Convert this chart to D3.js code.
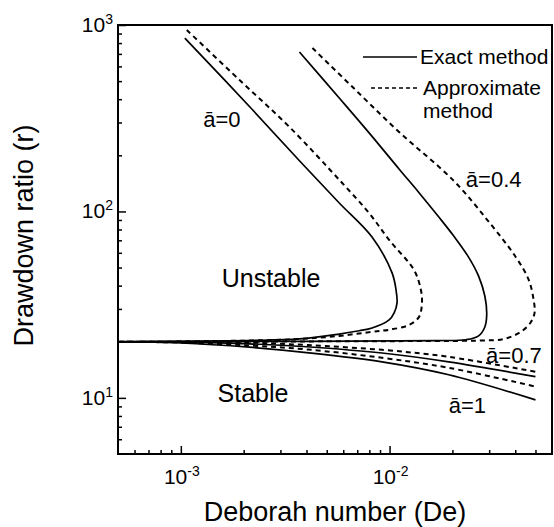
<!DOCTYPE html>
<html>
<head>
<meta charset="utf-8">
<script src="https://cdn.jsdelivr.net/npm/d3@7"></script>
<style>
    body { margin: 0; background: #fff; }
    svg { display: block; font-family: "Liberation Sans", Arial, sans-serif; }
</style>
</head>
<body>
<div id="chart"></div>
<script>
// Neutral stability curves, points are [De, r]
const exactA0 = [[1.045e-3, 851], [2.21e-3, 350], [3.70e-3, 187], [5.74e-3, 111], [8.24e-3, 72.9],
    [0.01028, 46.8], [0.01074, 37.9], [0.01086, 32.3], [0.01052, 28.6], [0.00995, 26.2], [0.00824, 23.7],
    [0.00715, 22.9], [0.00574, 22.0], [0.0037, 20.7], [0.00213, 20.3], [5e-4, 20]];
const approxA0 = [[1.068e-3, 940], [1.91e-3, 507], [3.31e-3, 284], [5.93e-3, 142], [7.98e-3, 98],
    [9.95e-3, 70.3], [0.01309, 48.5], [0.01413, 37.9], [0.01429, 32.3], [0.01384, 27.2], [0.01239, 24.6],
    [0.00995, 23.2], [0.00824, 22.6], [0.00574, 21.5], [0.0037, 20.7], [0.00213, 20.3], [5e-4, 20]];
const exactA04 = [[3.70e-3, 716], [5.74e-3, 406], [7.98e-3, 264], [0.0111, 169], [0.01384, 126],
    [0.01722, 93.3], [0.0203, 73.8], [0.0239, 56.9], [0.0267, 45.0], [0.0286, 35.2], [0.0292, 27.9],
    [0.0286, 24.0], [0.0267, 21.5], [0.0232, 20.5], [0.0172, 20.3], [0.0111, 20.2], [0.004, 20.1], [5e-4, 20]];
const approxA04 = [[4.27e-3, 753], [6.63e-3, 466], [0.0111, 267], [0.0203, 146], [0.0299, 87.9],
    [0.0402, 57], [0.0464, 43.0], [0.0490, 33.5], [0.0495, 28.6], [0.0473, 25.3], [0.0425, 22.6],
    [0.0352, 20.7], [0.0267, 20.3], [0.0172, 20.2], [0.005, 20.1], [5e-4, 20]];
const exactA07 = [[5e-4, 20], [1e-3, 19.9], [2.13e-3, 19.5], [4e-3, 18.8], [9.2e-3, 17.4], [0.0192, 15.6], [0.05, 13.0]];
const approxA07 = [[5e-4, 20], [1e-3, 20.0], [2.13e-3, 19.8], [4e-3, 19.2], [9.2e-3, 18.1], [0.0192, 16.6], [0.05, 13.8]];
const exactA1 = [[5e-4, 20], [1e-3, 19.7], [2.13e-3, 18.7], [4e-3, 17.5], [9.2e-3, 15.6], [0.0192, 13.3], [0.05, 9.75]];
const approxA1 = [[5e-4, 20], [1e-3, 19.8], [2.13e-3, 19.1], [4e-3, 18.2], [9.2e-3, 16.4], [0.0192, 14.5], [0.05, 11.5]];

// axis ticks and their labels (10 with an exponent)
const xMajor = [1e-3, 1e-2];
const xMajorExp = ['-3', '-2'];
const xMinor = [6e-4, 7e-4, 8e-4, 9e-4, 2e-3, 3e-3, 4e-3, 5e-3, 6e-3, 7e-3, 8e-3, 9e-3, 2e-2, 3e-2, 4e-2, 5e-2];
const yMajor = [10, 100, 1000];
const yMajorExp = ['1', '2', '3'];
const yMinor = [6, 7, 8, 9, 20, 30, 40, 50, 60, 70, 80, 90, 200, 300, 400, 500, 600, 700, 800, 900];

// text written inside the plot, placed in data units
const curveLabels = [
    {text: 'ā=0', de: 1.28e-3, r: 284},
    {text: 'ā=0.4', de: 0.0232, r: 135},
    {text: 'ā=0.7', de: 0.0290, r: 15.4},
    {text: 'ā=1', de: 0.0192, r: 8.3}
];
const regionLabels = [
    {text: 'Unstable', de: 1.57e-3, r: 39.4},
    {text: 'Stable', de: 1.50e-3, r: 9.5}
];

const width = 554, height = 527;
const margin = {top: 25, right: 2, bottom: 73, left: 118};

const svg = d3.select('#chart').append('svg')
    .attr('width', width)
    .attr('height', height)
    .style('background', '#fff');

const x = d3.scaleLog().domain([5e-4, 0.06]).range([margin.left, width - margin.right]);
const y = d3.scaleLog().domain([5, 1000]).range([height - margin.bottom, margin.top]);

// curves
const line = d3.line()
    .x(d => x(d[0]))
    .y(d => y(d[1]))
    .curve(d3.curveCatmullRom.alpha(0.5));

const series = [
    {data: exactA0, dashed: false}, {data: approxA0, dashed: true},
    {data: exactA04, dashed: false}, {data: approxA04, dashed: true},
    {data: exactA07, dashed: false}, {data: approxA07, dashed: true},
    {data: exactA1, dashed: false}, {data: approxA1, dashed: true}
];
svg.append('g').selectAll('path')
    .data(series)
    .enter().append('path')
    .attr('d', d => line(d.data))
    .attr('fill', 'none')
    .attr('stroke', '#000')
    .attr('stroke-width', d => d.dashed ? 2 : 1.7)
    .attr('stroke-dasharray', d => d.dashed ? '5,4' : null);

// ticks point inward, no labels from the axis itself
const plotBottom = height - margin.bottom;
function tickAxis(axis, values, size, transform) {
    const g = svg.append('g')
        .attr('transform', transform)
        .call(axis.tickValues(values).tickSize(-size).tickFormat(''));
    g.select('.domain').remove();
    g.selectAll('line').attr('stroke', '#000').attr('stroke-width', 1.5);
}
tickAxis(d3.axisBottom(x), xMajor, 8, 'translate(0,' + plotBottom + ')');
tickAxis(d3.axisBottom(x), xMinor, 4, 'translate(0,' + plotBottom + ')');
tickAxis(d3.axisLeft(y), yMajor, 8, 'translate(' + margin.left + ',0)');
tickAxis(d3.axisLeft(y), yMinor, 4, 'translate(' + margin.left + ',0)');

// frame
svg.append('rect')
    .attr('x', margin.left)
    .attr('y', margin.top)
    .attr('width', width - margin.left - margin.right)
    .attr('height', height - margin.top - margin.bottom)
    .attr('fill', 'none')
    .attr('stroke', '#000')
    .attr('stroke-width', 2);

// tick labels as 10 with a raised exponent
function powerLabel(sel, exp) {
    sel.append('tspan').text('10');
    sel.append('tspan').attr('font-size', 14).attr('dy', -8).text(exp);
}
xMajor.forEach((v, i) => {
    svg.append('text')
        .attr('x', x(v) + 1)
        .attr('y', plotBottom + 30)
        .attr('text-anchor', 'middle')
        .attr('font-size', 21)
        .call(powerLabel, xMajorExp[i]);
});
yMajor.forEach((v, i) => {
    svg.append('text')
        .attr('x', margin.left - 5)
        .attr('y', y(v) + 7)
        .attr('text-anchor', 'end')
        .attr('font-size', 21)
        .call(powerLabel, yMajorExp[i]);
});

// axis titles
svg.append('text')
    .attr('x', (margin.left + width - margin.right) / 2)
    .attr('y', 521)
    .attr('text-anchor', 'middle')
    .attr('font-size', 27)
    .text('Deborah number (De)');
svg.append('text')
    .attr('transform', 'translate(33,' + ((margin.top + plotBottom) / 2 - 4) + ') rotate(-90)')
    .attr('text-anchor', 'middle')
    .attr('font-size', 27)
    .text('Drawdown ratio (r)');

// labels inside the plot
svg.append('g').selectAll('text')
    .data(curveLabels)
    .enter().append('text')
    .attr('x', d => x(d.de))
    .attr('y', d => y(d.r))
    .attr('font-size', 22)
    .text(d => d.text);
svg.append('g').selectAll('text')
    .data(regionLabels)
    .enter().append('text')
    .attr('x', d => x(d.de))
    .attr('y', d => y(d.r))
    .attr('font-size', 25)
    .text(d => d.text);

// legend
const legend = svg.append('g').attr('transform', 'translate(363,57)');
legend.append('line').attr('x1', 0).attr('x2', 54).attr('y1', 0).attr('y2', 0)
    .attr('stroke', '#000').attr('stroke-width', 1.5);
legend.append('text').attr('x', 57).attr('y', 7).attr('font-size', 21).text('Exact method');
legend.append('line').attr('x1', 8).attr('x2', 54).attr('y1', 31).attr('y2', 31)
    .attr('stroke', '#000').attr('stroke-width', 1.5).attr('stroke-dasharray', '4,3');
legend.append('text').attr('x', 60).attr('y', 38).attr('font-size', 21).text('Approximate');
legend.append('text').attr('x', 60).attr('y', 61).attr('font-size', 21).text('method');
</script>
</body>
</html>
